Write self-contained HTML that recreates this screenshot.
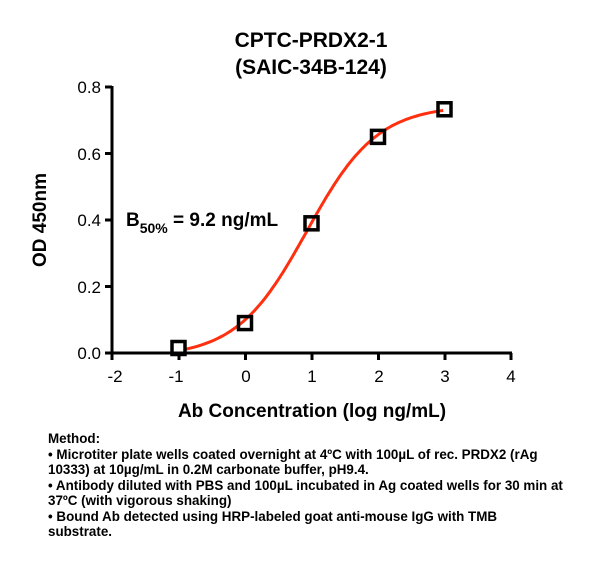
<!DOCTYPE html>
<html><head><meta charset="utf-8"><style>
body{margin:0;background:#fff;}
svg{display:block;font-family:"Liberation Sans",Arial,sans-serif;}
</style></head><body>
<svg id="s" width="600" height="570" viewBox="0 0 600 570">
<text x="311" y="47" font-size="21" font-weight="bold" text-anchor="middle">CPTC-PRDX2-1</text>
<text x="311" y="74" font-size="21" font-weight="bold" text-anchor="middle">(SAIC-34B-124)</text>
<g stroke="#000" stroke-width="3" fill="none">
<line x1="112" y1="86" x2="112" y2="354"/>
<line x1="110.5" y1="353" x2="512" y2="353"/>
<line x1="105" y1="87" x2="112" y2="87"/>
<line x1="105" y1="153.5" x2="112" y2="153.5"/>
<line x1="105" y1="220" x2="112" y2="220"/>
<line x1="105" y1="286.5" x2="112" y2="286.5"/>
<line x1="105" y1="353" x2="112" y2="353"/>
<line x1="112" y1="353" x2="112" y2="360"/>
<line x1="179" y1="353" x2="179" y2="360"/>
<line x1="245.5" y1="353" x2="245.5" y2="360"/>
<line x1="312" y1="353" x2="312" y2="360"/>
<line x1="378.5" y1="353" x2="378.5" y2="360"/>
<line x1="445" y1="353" x2="445" y2="360"/>
<line x1="511" y1="353" x2="511" y2="360"/>
</g>
<g font-size="17" text-anchor="end">
<text x="101" y="93">0.8</text>
<text x="101" y="160">0.6</text>
<text x="101" y="226">0.4</text>
<text x="101" y="293">0.2</text>
<text x="101" y="359">0.0</text>
</g>
<g font-size="17" text-anchor="middle">
<text x="115" y="382">-2</text>
<text x="176" y="382">-1</text>
<text x="246" y="382">0</text>
<text x="312" y="382">1</text>
<text x="379" y="382">2</text>
<text x="445" y="382">3</text>
<text x="511" y="382">4</text>
</g>
<text x="312" y="417" font-size="19" font-weight="bold" text-anchor="middle">Ab Concentration (log ng/mL)</text>
<text transform="translate(46,220) rotate(-90)" font-size="19" font-weight="bold" text-anchor="middle">OD 450nm</text>
<text x="126" y="226" font-size="19" font-weight="bold">B<tspan font-size="14" dy="7">50%</tspan><tspan dy="-7"> = 9.2 ng/mL</tspan></text>
<polyline id="c" fill="none" stroke="#ff3010" stroke-width="3"/>
<g id="m" stroke="#000" stroke-width="3.5" fill="none"></g>
<g font-size="13.4" font-weight="bold">
<text x="48" y="443">Method:</text>
<text x="48" y="459">• Microtiter plate wells coated overnight at 4ºC  with 100µL of rec. PRDX2 (rAg</text>
<text x="48" y="474">10333) at 10µg/mL in 0.2M carbonate buffer, pH9.4.</text>
<text x="48" y="490">• Antibody diluted with PBS and 100µL incubated in Ag coated wells for 30 min at</text>
<text x="48" y="505">37ºC (with vigorous shaking)</text>
<text x="48" y="521">• Bound Ab detected using HRP-labeled goat anti-mouse IgG with TMB</text>
<text x="48" y="536">substrate.</text>
</g>
</svg>
<script>
function X(v){return 112+(v+2)*66.5;}function Y(v){return 353-v*332.5;}
var p=[];for(var v=-0.9;v<=3.001;v+=0.04){var B=-0.012,T=0.745;var y=B+(T-B)/(1+Math.pow(10,0.82*(0.93-v)));p.push(X(v).toFixed(1)+","+Y(y).toFixed(1));}
document.getElementById("c").setAttribute("points",p.join(" "));
var d=[[-1,0.015],[0,0.09],[1,0.39],[2,0.65],[3,0.733]],g=document.getElementById("m"),h="";
d.forEach(function(q){h+='<rect x="'+(X(q[0])-6.5)+'" y="'+(Y(q[1])-6.5)+'" width="13" height="13"/>';});
g.innerHTML=h;
</script>
</body></html>
